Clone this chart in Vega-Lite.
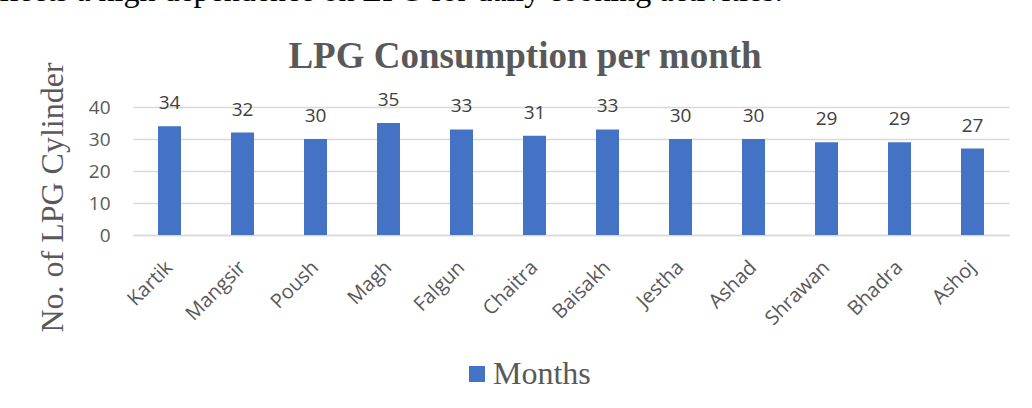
{
  "$schema": "https://vega.github.io/schema/vega-lite/v6.json",
  "width": 876,
  "height": 128,
  "autosize": {"type": "none"},
  "padding": {"left": 133, "top": 107, "right": 23, "bottom": 173},
  "background": "white",
  "title": {
    "text": "flects a high dependence on LPG for daily cooking activities.",
    "anchor": "start",
    "frame": "group",
    "dx": -134,
    "dy": -4,
    "offset": 0,
    "font": "Liberation Serif",
    "fontSize": 32,
    "fontWeight": "normal",
    "color": "#000000",
    "baseline": "alphabetic"
  },
  "config": {"view": {"stroke": null}},
  "data": {
    "values": [
      {"month": "Kartik", "cylinders": 34},
      {"month": "Mangsir", "cylinders": 32},
      {"month": "Poush", "cylinders": 30},
      {"month": "Magh", "cylinders": 35},
      {"month": "Falgun", "cylinders": 33},
      {"month": "Chaitra", "cylinders": 31},
      {"month": "Baisakh", "cylinders": 33},
      {"month": "Jestha", "cylinders": 30},
      {"month": "Ashad", "cylinders": 30},
      {"month": "Shrawan", "cylinders": 29},
      {"month": "Bhadra", "cylinders": 29},
      {"month": "Ashoj", "cylinders": 27}
    ]
  },
  "layer": [
    {
      "mark": {"type": "bar"},
      "encoding": {
        "x": {
          "field": "month",
          "type": "nominal",
          "sort": null,
          "scale": {"paddingInner": 0.685, "paddingOuter": 0.3425},
          "axis": {
            "title": null,
            "labelAngle": -45,
            "labelAlign": "right",
            "labelBaseline": "middle",
            "labelFont": "Open Sans",
            "labelFontSize": 20,
            "labelColor": "#595959",
            "ticks": false,
            "domain": true,
            "domainColor": "#D9D9D9",
            "domainWidth": 1.5,
            "labelPadding": 29,
            "grid": false
          }
        },
        "y": {
          "field": "cylinders",
          "type": "quantitative",
          "scale": {"domain": [0, 40]},
          "axis": {
            "title": "No. of  LPG Cylinder",
            "titleFont": "Liberation Serif",
            "titleFontSize": 32,
            "titleFontWeight": "normal",
            "titleColor": "#595959",
            "titleAngle": -90,
            "titleX": -71,
            "titleY": 90,
            "titleAlign": "center",
            "titleBaseline": "alphabetic",
            "values": [0, 10, 20, 30, 40],
            "tickCount": 5,
            "labelOverlap": false,
            "labelFlush": false,
            "grid": true,
            "gridColor": "#D9D9D9",
            "gridWidth": 1.5,
            "domain": false,
            "ticks": false,
            "labelPadding": 23,
            "labelFont": "Open Sans",
            "labelFontSize": 19,
            "labelColor": "#595959"
          }
        },
        "color": {
          "datum": "Months",
          "scale": {"range": ["#4472C4"]},
          "legend": {
            "orient": "none",
            "legendX": 328,
            "legendY": 251,
            "title": null,
            "symbolType": "square",
            "symbolSize": 256,
            "symbolStrokeWidth": 0,
            "labelFont": "Liberation Serif",
            "labelFontSize": 32,
            "labelColor": "#595959",
            "labelOffset": 0
          }
        }
      }
    },
    {
      "mark": {
        "type": "text",
        "dy": -17,
        "baseline": "alphabetic",
        "font": "Open Sans",
        "fontSize": 19,
        "color": "#404040"
      },
      "encoding": {
        "x": {
          "field": "month",
          "type": "nominal",
          "sort": null,
          "axis": {
            "orient": "top",
            "labels": false,
            "ticks": false,
            "domain": false,
            "grid": false,
            "title": "LPG Consumption per month",
            "titleFont": "Liberation Serif",
            "titleFontSize": 37,
            "titleFontWeight": "bold",
            "titleColor": "#595959",
            "titleX": 391.5,
            "titleY": -40,
            "titleAlign": "center",
            "titleBaseline": "alphabetic"
          }
        },
        "y": {"field": "cylinders", "type": "quantitative"},
        "text": {"field": "cylinders"}
      }
    }
  ],
  "resolve": {"axis": {"x": "independent"}}
}
